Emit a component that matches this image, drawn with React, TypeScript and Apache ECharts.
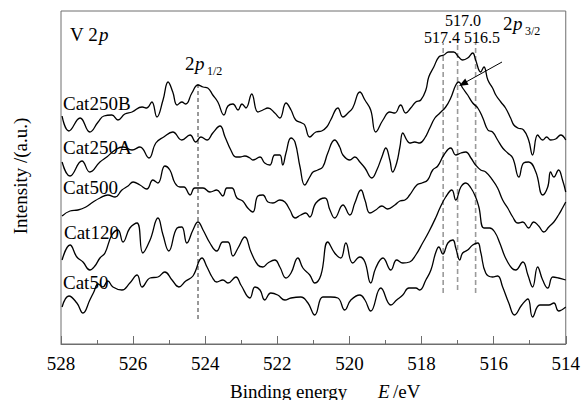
import React, { useEffect, useRef } from "react";
import * as echarts from "echarts";

// Binding energy (eV) vs intensity (a.u., stacked offsets as drawn)
const cat250B: [number, number][] = [
  [527.97,228],[527.78,213],[527.47,226],[527.20,212],[526.97,222],[526.81,228],[526.59,229],[526.42,224],[526.23,230],[526.03,232],
  [525.75,237],[525.62,236],[525.48,242],[525.34,227],[525.17,244],[525.03,262],[524.90,252],[524.78,239],[524.65,242],[524.54,240],
  [524.37,251],[524.20,259],[524.06,257],[523.93,256],[523.79,249],[523.65,242],[523.48,229],[523.37,238],[523.23,240],[523.09,234],
  [522.98,240],[522.87,236],[522.71,250],[522.54,232],[522.40,234],[522.26,236],[522.07,231],[521.93,226],[521.76,241],[521.62,234],
  [521.49,224],[521.32,221],[521.24,219],[521.10,207],[520.93,212],[520.77,213],[520.63,217],[520.52,224],[520.32,236],[520.18,227],
  [520.04,231],[519.91,236],[519.71,252],[519.57,244],[519.41,234],[519.27,212],[519.07,224],[518.88,232],[518.74,231],[518.58,239],
  [518.44,231],[518.30,236],[518.16,242],[518.02,244],[517.88,254],[517.80,267],[517.66,277],[517.52,287],[517.38,289],[517.25,292],
  [517.11,292],[516.97,287],[516.86,284],[516.72,286],[516.58,291],[516.50,284],[516.36,272],[516.27,277],[516.16,264],[516.03,256],
  [515.94,249],[515.80,242],[515.67,236],[515.53,226],[515.44,219],[515.33,216],[515.17,214],[515.03,204],[514.92,189],[514.78,209],
  [514.64,204],[514.53,207],[514.42,204],[514.28,205],[514.14,209],[514.00,204]
];

const cat250A: [number, number][] = [
  [527.97,182],[527.75,168],[527.42,183],[527.20,172],[526.92,182],[526.73,187],[526.50,194],[526.28,197],[526.03,194],[525.81,197],
  [525.56,186],[525.37,201],[525.15,207],[524.90,212],[524.65,204],[524.42,209],[524.26,202],[524.12,207],[523.95,204],[523.79,211],
  [523.59,218],[523.45,207],[523.29,194],[523.15,187],[523.04,187],[522.90,188],[522.76,186],[522.68,184],[522.48,187],[522.35,181],
  [522.21,179],[522.07,189],[521.93,189],[521.85,179],[521.76,191],[521.62,206],[521.51,202],[521.37,177],[521.24,159],[521.10,167],
  [521.01,172],[520.88,174],[520.74,177],[520.60,191],[520.41,204],[520.27,197],[520.18,189],[519.99,184],[519.85,187],[519.71,182],
  [519.57,176],[519.38,166],[519.24,174],[519.10,187],[518.99,196],[518.88,184],[518.80,172],[518.69,181],[518.60,197],[518.52,211],
  [518.41,204],[518.33,201],[518.19,202],[518.05,201],[517.91,206],[517.77,216],[517.63,226],[517.49,231],[517.33,237],[517.19,246],
  [517.05,259],[516.97,262],[516.86,256],[516.72,249],[516.58,241],[516.44,236],[516.30,226],[516.16,214],[516.03,212],[515.89,204],
  [515.75,196],[515.61,191],[515.47,186],[515.30,167],[515.17,181],[515.03,182],[514.83,172],[514.64,149],[514.50,157],[514.42,172],
  [514.33,167],[514.20,174],[514.09,164],[514.00,152]
];

const cat500: [number, number][] = [
  [527.97,128],[527.75,133],[527.53,134],[527.31,137],[527.11,142],[526.92,146],[526.70,149],[526.50,147],[526.31,154],[526.14,158],
  [526.00,162],[525.81,159],[525.62,155],[525.45,164],[525.31,161],[525.12,178],[524.98,174],[524.84,161],[524.70,157],[524.59,157],
  [524.42,149],[524.29,156],[524.06,156],[523.87,152],[523.68,154],[523.51,148],[523.40,156],[523.26,156],[523.12,146],[522.96,143],
  [522.82,136],[522.68,132],[522.54,148],[522.40,149],[522.26,142],[522.12,141],[521.93,144],[521.79,142],[521.65,134],[521.51,126],
  [521.35,129],[521.21,131],[521.10,127],[520.93,141],[520.68,146],[520.54,134],[520.41,126],[520.18,139],[519.99,129],[519.85,141],
  [519.68,154],[519.57,144],[519.43,131],[519.27,134],[519.10,138],[518.94,135],[518.74,139],[518.60,143],[518.46,144],[518.33,149],
  [518.13,159],[517.99,161],[517.83,164],[517.69,174],[517.55,178],[517.38,189],[517.19,196],[517.05,189],[516.91,191],[516.77,192],
  [516.63,186],[516.50,179],[516.36,174],[516.22,172],[516.03,164],[515.89,156],[515.75,144],[515.61,136],[515.47,127],[515.33,121],
  [515.19,122],[515.03,116],[514.89,122],[514.75,118],[514.61,112],[514.47,117],[514.33,122],[514.20,129],[514.09,136],[514.00,142]
];

const cat120: [number, number][] = [
  [527.97,84],[527.75,99],[527.56,87],[527.39,82],[527.20,74],[527.06,78],[526.92,86],[526.78,91],[526.59,109],[526.42,114],
  [526.28,102],[526.09,116],[525.89,121],[525.73,91],[525.53,104],[525.31,126],[525.17,109],[525.01,93],[524.78,116],[524.65,117],
  [524.51,101],[524.34,114],[524.20,122],[524.06,114],[523.87,101],[523.68,93],[523.51,102],[523.37,102],[523.23,88],[523.09,96],
  [522.90,107],[522.73,92],[522.54,79],[522.40,77],[522.26,81],[522.07,84],[521.93,77],[521.76,66],[521.62,71],[521.43,86],
  [521.29,76],[521.10,69],[520.96,61],[520.79,69],[520.60,102],[520.41,91],[520.24,86],[520.10,101],[519.91,81],[519.71,87],
  [519.57,82],[519.41,61],[519.27,76],[519.07,86],[518.85,74],[518.69,84],[518.52,81],[518.33,82],[518.16,89],[517.97,101],
  [517.80,112],[517.61,126],[517.49,136],[517.33,147],[517.16,154],[517.05,144],[516.91,157],[516.77,161],[516.63,156],[516.50,147],
  [516.41,137],[516.27,116],[516.11,116],[515.97,112],[515.83,101],[515.67,86],[515.50,76],[515.39,74],[515.19,82],[515.05,69],
  [514.92,57],[514.78,77],[514.64,64],[514.50,56],[514.36,67],[514.20,66],[514.00,64]
];

const cat50: [number, number][] = [
  [527.97,37],[527.78,48],[527.56,41],[527.39,31],[527.20,44],[527.09,52],[526.97,60],[526.84,57],[526.70,63],[526.56,57],
  [526.31,54],[526.09,61],[525.89,69],[525.75,57],[525.53,66],[525.31,67],[525.12,72],[524.92,64],[524.73,57],[524.54,63],
  [524.34,68],[524.09,86],[523.95,77],[523.81,67],[523.68,62],[523.51,64],[523.37,61],[523.15,67],[523.01,59],[522.76,46],
  [522.62,57],[522.48,54],[522.35,44],[522.18,51],[521.99,49],[521.79,44],[521.62,46],[521.35,47],[521.15,41],[520.96,29],
  [520.74,47],[520.52,47],[520.32,46],[520.13,34],[519.96,44],[519.71,49],[519.57,44],[519.41,33],[519.13,56],[518.85,39],
  [518.69,44],[518.52,49],[518.35,56],[518.16,56],[518.05,54],[517.88,64],[517.74,74],[517.61,91],[517.52,97],[517.41,90],
  [517.27,101],[517.13,104],[517.05,96],[516.94,84],[516.86,91],[516.72,94],[516.58,99],[516.44,101],[516.36,92],[516.22,71],
  [516.03,67],[515.89,68],[515.75,57],[515.58,41],[515.42,29],[515.22,39],[515.05,45],[514.92,27],[514.72,39],[514.47,39],
  [514.33,41],[514.20,33],[514.00,37]
];

const curveNames = ["Cat250B", "Cat250A", "Cat500", "Cat120", "Cat50"];
const curves = [cat250B, cat250A, cat500, cat120, cat50];

// Reference lines (binding energy) and their vertical extent (intensity)
const guideEnergies = [524.2, 517.4, 517.0, 516.5];
const guideSpans: [number, number][] = [[25, 262], [51, 301], [54, 301], [51, 301]];
const peakValueLabels = ["517.4", "517.0", "516.5"];

const xMin = 514;
const xMax = 528;
const xInterval = 2;

const FONT = "Liberation Serif, Times New Roman, serif";

export default function App() {
  const ref = useRef<HTMLDivElement>(null);

  useEffect(() => {
    document.body.style.margin = "0";
    const chart = echarts.init(ref.current!, undefined, { renderer: "svg" });
    const frame = "#6e6e6e";

    const curveSeries = curves.map((d, i) => ({
      name: curveNames[i],
      type: "line",
      data: d,
      smooth: 0.45,
      showSymbol: false,
      lineStyle: { color: "#000", width: 1.3 },
      z: 3,
    }));

    const guideSeries = guideEnergies.map((e, i) => ({
      name: "guide" + i,
      type: "line",
      data: [[e, guideSpans[i][0]], [e, guideSpans[i][1]]],
      showSymbol: false,
      silent: true,
      lineStyle: {
        color: i === 0 ? "#333" : "#9a9a9a",
        width: i === 0 ? 1 : 1.6,
        type: i === 0 ? [4, 3] : [5, 3],
      },
      z: 2,
    }));

    const txt = (text: string, x: number, y: number, extra: any = {}) => ({
      type: "text",
      x,
      y,
      rotation: extra.rotation || 0,
      z: 10,
      style: {
        text,
        fill: "#000",
        fontFamily: FONT,
        fontSize: extra.size || 19,
        fontStyle: extra.italic ? "italic" : "normal",
        align: extra.align || "left",
        verticalAlign: "middle",
      },
    });

    const graphics: any[] = [
      // panel title
      txt("V 2", 70, 34),
      txt("p", 99, 34, { italic: true }),
      // 2p1/2
      txt("2", 185, 63),
      txt("p", 195, 63, { italic: true }),
      txt("1/2", 207, 71, { size: 12 }),
      // peak energies
      txt(peakValueLabels[1], 463, 20, { size: 16, align: "center" }),
      txt(peakValueLabels[0], 442, 37, { size: 16, align: "center" }),
      txt(peakValueLabels[2], 482, 37, { size: 16, align: "center" }),
      // 2p3/2
      txt("2", 503, 23),
      txt("p", 513, 23, { italic: true }),
      txt("3/2", 525, 31, { size: 12 }),
      // arrow
      {
        type: "line",
        shape: { x1: 502, y1: 62, x2: 466, y2: 82 },
        style: { stroke: "#000", lineWidth: 1 },
        z: 10,
      },
      {
        type: "polygon",
        shape: { points: [[459, 86], [468.6, 84.7], [465.2, 78.5]] },
        style: { fill: "#000" },
        z: 10,
      },
      // curve labels
      txt(curveNames[0], 63, 103),
      txt(curveNames[1], 63, 147),
      txt(curveNames[2], 63, 187),
      txt(curveNames[3], 64, 232),
      txt(curveNames[4], 63, 282),
      // axis titles
      txt("Binding energy", 230, 391),
      txt("E", 378, 391, { italic: true }),
      txt("/eV", 393, 391),
      txt("Intensity /(a.u.)", 20, 176, { align: "center", rotation: Math.PI / 2 }),
    ];

    chart.setOption({
      animation: false,
      backgroundColor: "#fff",
      grid: {
        left: 61,
        right: 17,
        top: 11,
        bottom: 56,
        show: true,
        borderColor: frame,
        borderWidth: 1,
        backgroundColor: "transparent",
      },
      xAxis: {
        type: "value",
        min: xMin,
        max: xMax,
        interval: xInterval,
        inverse: true,
        axisLine: { onZero: false, lineStyle: { color: frame, width: 1 } },
        axisTick: { inside: true, length: 8, lineStyle: { color: frame } },
        minorTick: { show: true, splitNumber: 2, length: 4, lineStyle: { color: frame } },
        splitLine: { show: false },
        minorSplitLine: { show: false },
        axisLabel: { color: "#000", fontFamily: FONT, fontSize: 19, margin: 10 },
      },
      yAxis: { type: "value", min: 0, max: 333, show: false },
      series: [...guideSeries, ...curveSeries],
      graphic: graphics,
    });

    return () => chart.dispose();
  }, []);

  return <div ref={ref} style={{ width: 583, height: 400 }} />;
}
